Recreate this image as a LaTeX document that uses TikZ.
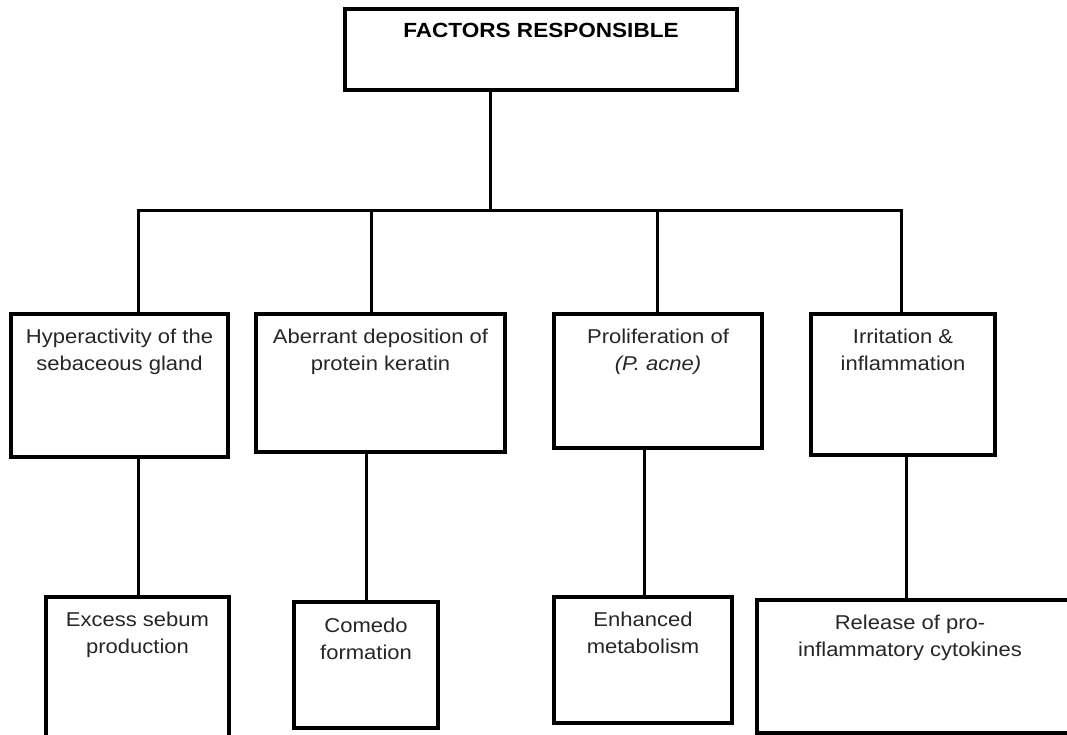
\documentclass[tikz,border=0pt]{standalone}
\usepackage{fontspec}
\setmainfont{Liberation Sans}[FakeStretch=1.1]
\begin{document}
\begin{tikzpicture}[x=1pt,y=-1pt,
  box/.style={draw=black, line width=3.3pt, rectangle, inner sep=0pt},
  conn/.style={draw=black, line width=3pt},
  txt/.style={anchor=north, inner sep=0pt, align=center, font=\fontsize{20}{27}\selectfont, text=black!85},
  ttl/.style={anchor=base, inner sep=0pt, font=\fontsize{20.5}{25}\selectfont\bfseries}]
\useasboundingbox (0,0) rectangle (1067,735);
\clip (0,0) rectangle (1067,735);
\fill[white] (0,0) rectangle (1067,735);

% boxes
\node[box, minimum width=392pt, minimum height=81pt] (top) at (541,49.5) {};
\node[box, minimum width=217pt, minimum height=143pt] (b1) at (119.5,385.5) {};
\node[box, minimum width=249pt, minimum height=138pt] (b2) at (380.5,383) {};
\node[box, minimum width=208pt, minimum height=134pt] (b3) at (658,381) {};
\node[box, minimum width=184pt, minimum height=141pt] (b4) at (903,384.5) {};
\node[box, minimum width=183pt, minimum height=148pt] (b5) at (137.5,671) {};
\node[box, minimum width=144pt, minimum height=126pt] (b6) at (366,665) {};
\node[box, minimum width=178pt, minimum height=126pt] (b7) at (643,660) {};
\node[box, minimum width=318pt, minimum height=133pt] (b8) at (916,666.5) {};

% texts
\node[ttl] (ttop) at (541,38) {FACTORS RESPONSIBLE};
\node[txt] (t1) at (119.5,328.5) {Hyperactivity of the\\sebaceous gland};
\node[txt] (t2) at (380.5,328.5) {Aberrant deposition of\\protein keratin};
\node[txt] (t3) at (658,328.5) {Proliferation of\\\textit{(P. acne)}};
\node[txt] (t4) at (903,328.5) {Irritation \&\\inflammation};
\node[txt] (t5) at (137.5,611.5) {Excess sebum\\production};
\node[txt] (t6) at (366,617.5) {Comedo\\formation};
\node[txt] (t7) at (643,611.5) {Enhanced\\metabolism};
\node[txt] (t8) at (910,614.5) {Release of pro-\\inflammatory cytokines};

% junctions
\coordinate (j0) at (490,211);
\coordinate (j1) at (138,211);
\coordinate (j2) at (371,211);
\coordinate (j3) at (657,211);
\coordinate (j4) at (901,211);
\coordinate (k1) at (138,0);
\coordinate (k2) at (366,0);
\coordinate (k3) at (644,0);
\coordinate (k4) at (906,0);

% connectors
\draw[conn] (top.south -| j0) -- (j0);
\draw[conn, line join=miter] (b1.north -| j1) -- (j1) -- (j4) -- (b4.north -| j4);
\draw[conn] (j2) -- (b2.north -| j2);
\draw[conn] (j3) -- (b3.north -| j3);
\draw[conn] (b1.south -| k1) -- (b5.north -| k1);
\draw[conn] (b2.south -| k2) -- (b6.north -| k2);
\draw[conn] (b3.south -| k3) -- (b7.north -| k3);
\draw[conn] (b4.south -| k4) -- (b8.north -| k4);
\end{tikzpicture}
\end{document}
